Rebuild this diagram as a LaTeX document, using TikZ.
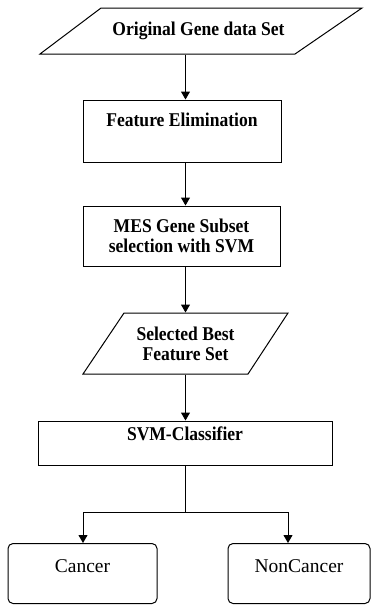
\documentclass[tikz,border=0pt]{standalone}
\usepackage{fontspec}
\setmainfont{Liberation Serif}[BoldFeatures={FakeStretch=0.9}]
\usetikzlibrary{arrows.meta}
\begin{document}
\begin{tikzpicture}[x=1pt,y=-1pt,line width=1pt,
  arr/.style={-{Triangle[width=9pt,length=8pt]}},
  bf/.style={font=\fontsize{19.5}{20}\selectfont\bfseries,align=center},
  box/.style={bf,draw,rectangle,inner sep=0pt},
  plain/.style={bf,rectangle,inner sep=0pt},
  outcome/.style={draw,rectangle,rounded corners=5pt,inner xsep=0pt,inner ysep=0pt,
    font=\fontsize{19.5}{20}\selectfont,text height=29pt,text depth=31pt,anchor=north}]
\fill[white] (0,0) rectangle (372,605);
\clip (0,0) rectangle (372,605);
\coordinate (spine) at (185.5,0);
% input parallelogram
\draw (40,54) -- (101,8) -- (362,8) -- (295,54) -- cycle;
\node[plain,minimum height=46pt] (orig) at (198.5,31) {Original Gene data Set};
% feature elimination
\node[box,minimum width=198pt,minimum height=62pt,text height=26pt,text depth=36pt] (fe) at (182,131) {Feature Elimination};
% MES
\node[box,minimum width=197pt,minimum height=60pt] (mes) at (181.5,236) {MES Gene Subset\\selection with SVM};
% selected parallelogram
\draw (83,374) -- (124,313) -- (288,313) -- (248,374) -- cycle;
\node[plain,minimum height=61pt] (sel) at (185.5,343.5) {Selected Best\\Feature Set};
% SVM classifier
\node[box,minimum width=294pt,minimum height=44pt,text height=19pt,text depth=25pt] (svm) at (185,443) {SVM-Classifier};
% outcomes
\node[outcome,minimum width=149pt] (cancer) at (82.5,543) {Cancer};
\node[outcome,minimum width=142pt] (non) at (299,543) {NonCancer};
% connectors
\draw[arr] (orig.south -| spine) -- (fe.north -| spine);
\draw[arr] (fe.south -| spine) -- (mes.north -| spine);
\draw[arr] (mes.south -| spine) -- (sel.north -| spine);
\draw[arr] (sel.south -| spine) -- (svm.north -| spine);
\coordinate (jn) at (185.5,512);
\coordinate (jl) at (83,512);
\coordinate (jr) at (288,512);
\draw (svm.south -| spine) -- (jn);
\draw[arr] (jn) -| (cancer.north -| jl);
\draw[arr] (jn) -| (non.north -| jr);
\end{tikzpicture}
\end{document}
